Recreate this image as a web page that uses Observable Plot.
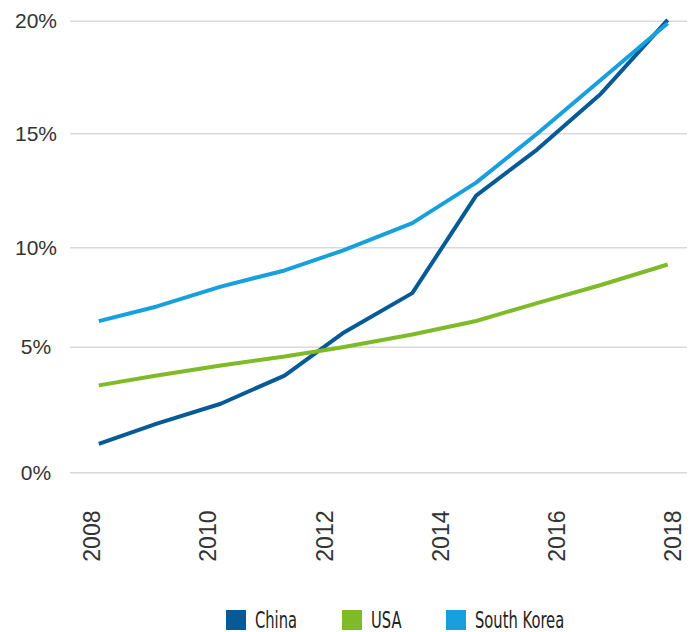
<!DOCTYPE html>
<html>
<head>
<meta charset="utf-8">
<script src="https://cdn.jsdelivr.net/npm/d3@7"></script>
<script src="https://cdn.jsdelivr.net/npm/@observablehq/plot@0.6"></script>
<style>
  html, body { margin: 0; padding: 0; background: #fff; }
  #wrap { position: relative; width: 694px; height: 632px; overflow: hidden; }
  #chart { position: absolute; left: 0; top: 0; }
  .item { position: absolute; top: 610px; height: 20px; display: flex; align-items: center; white-space: nowrap; }
  .sw { width: 20px; height: 20px; margin-right: 9px; flex: none; }
  .lab { display: inline-block; font-family: "DejaVu Sans", sans-serif; font-size: 23px; color: #222; line-height: 20px; transform: scaleX(0.64); transform-origin: left center; }
</style>
</head>
<body>
<div id="wrap">
  <div id="chart"></div>
  <div id="legend"></div>
</div>
<script>
// Data
const years = [2008.1, 2009.1, 2010.2, 2011.3, 2012.3, 2013.5, 2014.6, 2015.65, 2016.75, 2017.9];
const china = [1.15, 1.96, 2.75, 3.87, 5.70, 7.72, 12.29, 14.31, 16.78, 20.06];
const usa = [3.48, 3.87, 4.27, 4.63, 5.00, 5.64, 6.32, 7.22, 8.13, 9.16];
const southKorea = [6.31, 7.05, 8.05, 8.86, 9.86, 11.08, 12.86, 15.0, 17.4, 19.91];
const seriesNames = ["China", "USA", "South Korea"];
const seriesColors = ["#065a96", "#7fba28", "#17a0db"];
const yTicks = [0, 5, 10, 15, 20];
const xTicks = [2008, 2010, 2012, 2014, 2016, 2018];

const seriesValues = [china, usa, southKorea];
const rows = [];
seriesNames.forEach((name, s) => {
  years.forEach((yr, i) => rows.push({year: yr, value: seriesValues[s][i], series: name}));
});

const chart = Plot.plot({
  width: 694,
  height: 590,
  marginLeft: 70,
  marginRight: 7,
  marginTop: 20,
  marginBottom: 90,
  style: {fontFamily: "'Liberation Sans', Arial, sans-serif", color: "#333", background: "#fff"},
  x: {type: "linear", domain: [2008, 2018], range: [92.5, 673]},
  y: {type: "linear", domain: yTicks, range: [472.3, 346.7, 247.3, 133.3, 20.7]},
  color: {domain: seriesNames, range: seriesColors},
  marks: [
    Plot.gridY(yTicks, {stroke: "#d9d9d9", strokeOpacity: 1, strokeWidth: 1.5}),
    Plot.axisY(yTicks, {tickFormat: d => d + "%", tickSize: 0, tickPadding: 34.5, textAnchor: "middle", fontSize: 21, label: null}),
    Plot.axisX(xTicks, {tickFormat: d => String(d), tickRotate: -90, tickSize: 0, tickPadding: 10, fontSize: 23, label: null}),
    Plot.line(rows, {x: "year", y: "value", z: "series", stroke: "series", strokeWidth: 4, strokeLinecap: "butt", strokeLinejoin: "miter"})
  ]
});
document.getElementById("chart").appendChild(chart);

// Legend
const legendX = [226, 342, 446];
const legend = document.getElementById("legend");
seriesNames.forEach((name, i) => {
  const item = document.createElement("div");
  item.className = "item";
  item.style.left = legendX[i] + "px";
  const sw = document.createElement("div");
  sw.className = "sw";
  sw.style.background = seriesColors[i];
  const lab = document.createElement("span");
  lab.className = "lab";
  lab.textContent = name;
  item.appendChild(sw);
  item.appendChild(lab);
  legend.appendChild(item);
});
</script>
</body>
</html>
